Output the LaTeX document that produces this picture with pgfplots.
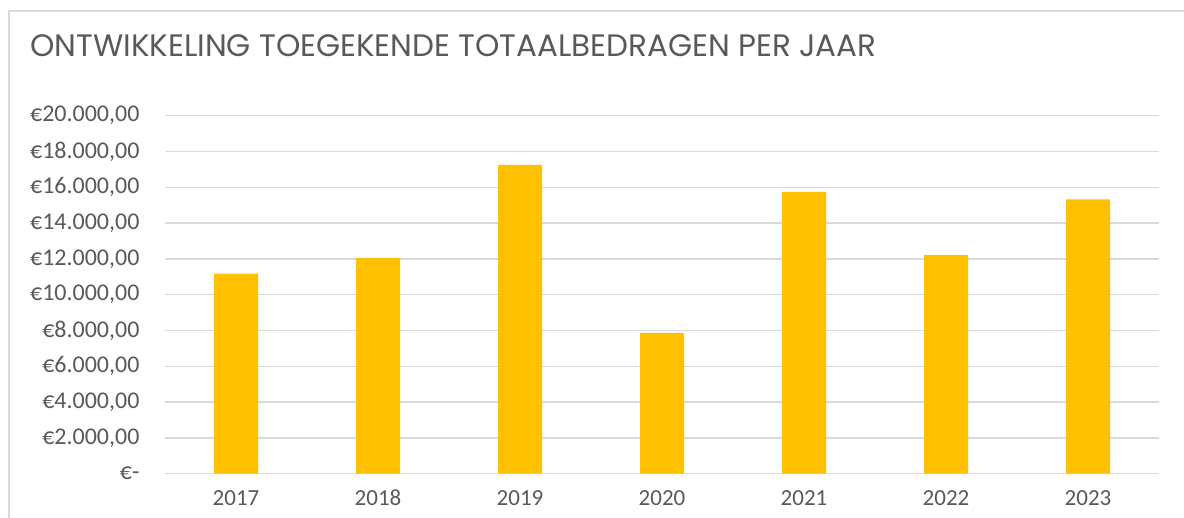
\documentclass[border=0pt]{standalone}
\usepackage{pgfplots}
\pgfplotsset{compat=1.18}
\usepackage{fontspec}
\setmainfont{Carlito}
\newfontfamily\titlefont{Poppins}
\definecolor{bargold}{HTML}{FFC000}
\definecolor{gridgray}{HTML}{D9D9D9}
\definecolor{txtgray}{HTML}{595959}
\begin{document}
\begin{tikzpicture}[x=1pt,y=1pt]
\path[use as bounding box] (0,0) rectangle (1184,518);
\draw[gridgray, line width=1.5pt] (9,-5) -- (9,507) -- (1190,507);
\node[anchor=base west, inner sep=0pt, text=txtgray] at (30,461)
  {\titlefont\fontsize{31}{36}\selectfont ONTWIKKELING TOEGEKENDE TOTAALBEDRAGEN PER JAAR};
\begin{axis}[
  at={(165pt,44.3pt)}, anchor=south west,
  scale only axis, width=994pt, height=358pt,
  xmin=-0.5, xmax=6.5, ymin=0, ymax=20000,
  axis lines*=left,
  x axis line style={gridgray, line width=1.5pt},
  y axis line style={draw=none},
  ybar, bar width=44pt,
  scaled y ticks=false,
  xtick={0,1,2,3,4,5,6},
  xticklabels={2017,2018,2019,2020,2021,2022,2023},
  ytick={0,2000,4000,6000,8000,10000,12000,14000,16000,18000,20000},
  yticklabels={€-,€2.000{,}00,€4.000{,}00,€6.000{,}00,€8.000{,}00,€10.000{,}00,€12.000{,}00,€14.000{,}00,€16.000{,}00,€18.000{,}00,€20.000{,}00},
  ymajorgrids, grid style={gridgray, line width=1.5pt},
  major tick length=0pt,
  tick label style={font=\fontsize{23}{27}\selectfont, text=txtgray},
  xticklabel style={yshift=-13pt},
  yticklabel style={xshift=-22pt, font=\fontsize{24}{28}\selectfont},
  clip=false,
]
\addplot[fill=bargold, draw=none] coordinates {
  (0,11170) (1,12050) (2,17250) (3,7860) (4,15740) (5,12220) (6,15330)};
\end{axis}
\end{tikzpicture}
\end{document}
